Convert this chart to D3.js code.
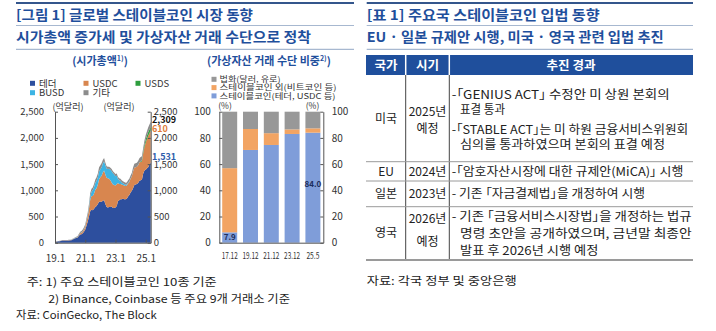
<!DOCTYPE html>
<html><head><meta charset="utf-8">
<script src="https://cdn.jsdelivr.net/npm/d3@7"></script>
<style>
body{margin:0;background:#fff}
text{font-family:"Noto Sans CJK KR","Noto Sans",sans-serif}
.palt{font-feature-settings:"palt"}
</style>
</head><body>
<svg id="c" width="716" height="331"></svg>
<script>
// ---------- DATA ----------
// Market cap (억달러), monthly 2019.1 – 2025.5
const startMonth = new Date(2019, 0, 1), endMonth = new Date(2025, 4, 1);
const tether = [20,20,21,26,30,35,40,40,41,41,41,42,
  46,47,60,70,85,92,100,135,155,160,180,210,
  250,330,400,500,600,630,620,650,680,700,740,780,
  780,780,800,810,740,680,670,680,680,690,660,660,
  670,700,790,810,830,830,840,830,830,840,880,910,
  960,990,1040,1100,1110,1120,1140,1180,1190,1200,1320,1380,
  1390,1420,1440,1490,1531];
const usdc = [4,4,3,3,3,4,5,5,5,5,5,5,
  5,5,6,7,7,9,10,12,25,30,30,40,
  50,80,100,150,220,260,270,290,330,340,370,430,
  470,500,540,570,560,560,560,540,510,460,450,440,
  420,420,350,310,290,280,260,260,250,250,250,250,
  260,280,320,330,330,330,340,350,350,350,380,440,
  520,560,600,600,610];
const busd = [0,0,0,0,0,0,1,1,1,1,2,2,
  2,2,2,2,2,2,2,3,3,5,5,8,
  10,15,20,30,60,80,110,120,130,140,140,150,
  150,160,170,175,180,175,175,190,200,215,215,200,
  180,160,80,70,60,40,35,30,25,20,15,10,
  7,5,3,2,2,1,1,1,1,0,0,0,
  0,0,0,0,0];
const usds = [0,0,0,0,0,0,0,0,0,0,0,0,
  0,0,0,0,0,0,0,0,0,0,0,0,
  0,0,0,0,0,0,0,0,0,0,0,0,
  0,0,0,0,0,0,0,0,0,0,0,0,
  0,0,0,0,0,0,0,0,0,0,0,0,
  0,0,0,0,0,0,0,0,15,20,30,50,
  60,65,70,72,75];
const other = [3,3,3,4,4,5,5,5,5,5,5,5,
  5,5,6,8,10,12,14,20,25,30,35,35,
  40,45,50,60,70,60,55,60,65,70,70,80,
  80,80,70,60,50,45,45,40,40,40,40,40,
  40,40,40,40,40,40,40,40,40,40,45,50,
  55,60,70,75,75,75,80,80,80,80,80,80,
  85,88,90,92,93];
const seriesKeys = ["tether","usdc","busd","usds","other"];
const seriesNames = {tether:"테더", usdc:"USDC", usds:"USDS", busd:"BUSD", other:"기타"};
const areaYTicks = [0,500,1000,1500,2000,2500];
const areaXTicks = [new Date(2019,0,1), new Date(2021,0,1), new Date(2023,0,1), new Date(2025,0,1)];
const areaXTickLabels = ["19.1","21.1","23.1","25.1"];
const endLabels = [{key:"total", text:"2,309", value:2309},{key:"usdc", text:"610", value:2141},{key:"tether", text:"1,531", value:1531}];

// Share of trading means (%)
const barCats = ["17.12","19.12","21.12","23.12","25.5"];
const stableShare = [7.9,70.8,74.6,83.0,84.0];
const nonStableShare = [49.0,16.0,9.0,3.5,3.3];
const fiatShare = [43.1,13.2,16.4,13.5,12.7];
const barYTicks = [0,20,40,60,80,100];

// ---------- SETUP ----------
const svg = d3.select("#c");
const BLUE = "#1f4f9c";
function txt(g, s, x, y, o = {}) {
  const t = g.append("text").attr("x", x).attr("y", y).attr("dy", o.dy ?? "0.36em")
    .attr("font-size", o.size || 12).attr("fill", o.fill || "#222")
    .attr("text-anchor", o.anchor || "start").attr("font-weight", o.weight || "normal").text(s);
  if (o.len) t.attr("textLength", o.len).attr("lengthAdjust", o.adj || "spacingAndGlyphs");
  if (o.cls) t.attr("class", o.cls);
  return t;
}
function hline(x1, x2, y, c, w) {
  svg.append("line").attr("x1", x1).attr("x2", x2).attr("y1", y).attr("y2", y).attr("stroke", c).attr("stroke-width", w);
}

// ---------- HEADERS ----------
hline(16, 354, 3, "#34568c", 2);
hline(16, 354, 25.5, "#a7b8d0", 1.2);
hline(16, 354, 49.3, "#a7b8d0", 1.2);
txt(svg, "[그림 1] 글로벌 스테이블코인 시장 동향", 16, 15, {size:13.5, weight:"bold", fill:BLUE, len:237});
txt(svg, "시가총액 증가세 및 가상자산 거래 수단으로 정착", 16, 37.3, {size:13.5, weight:"bold", fill:BLUE, len:295});

hline(366.7, 693, 3, "#34568c", 2);
hline(366.7, 693, 25.5, "#a7b8d0", 1.2);
hline(366.7, 693, 49.3, "#a7b8d0", 1.2);
txt(svg, "[표 1] 주요국 스테이블코인 입법 동향", 366.7, 15, {size:13.5, weight:"bold", fill:BLUE, len:233});
txt(svg, "EU · 일본 규제안 시행, 미국 · 영국 관련 입법 추진", 366.7, 37.3, {size:13.5, weight:"bold", fill:BLUE, len:297});

// panel sub-titles with superscripts
{
  const t1 = svg.append("text").attr("x", 100).attr("y", 61).attr("dy","0.36em").attr("text-anchor","middle")
    .attr("font-size", 11).attr("fill", BLUE).attr("font-weight","bold");
  t1.append("tspan").text("(시가총액");
  t1.append("tspan").attr("font-size", 7).attr("dy", -4).text("1)");
  t1.append("tspan").attr("dy", 4).text(")");
  const t2 = svg.append("text").attr("x", 269).attr("y", 61).attr("dy","0.36em").attr("text-anchor","middle")
    .attr("font-size", 11).attr("fill", BLUE).attr("font-weight","bold");
  t2.append("tspan").text("(가상자산 거래 수단 비중");
  t2.append("tspan").attr("font-size", 7).attr("dy", -4).text("2)");
  t2.append("tspan").attr("dy", 4).text(")");
}

// ---------- AREA CHART ----------
const colors = {tether:"#2d4f9e", usdc:"#d8864f", busd:"#3cb4e4", usds:"#2e9e3e", other:"#8c8c8c"};
const months = d3.timeMonth.range(startMonth, d3.timeMonth.offset(endMonth, 1));
const rows = months.map((d, i) => ({date:d, tether:tether[i], usdc:usdc[i], busd:busd[i], usds:usds[i], other:other[i]}));
const xA = d3.scaleTime().domain([startMonth, endMonth]).range([55, 150.7]);
const yA = d3.scaleLinear().domain([0, 2500]).range([242.7, 111.7]);
const stacked = d3.stack().keys(seriesKeys)(rows);
const areaGen = d3.area().x(d => xA(d.data.date)).y0(d => yA(d[0])).y1(d => yA(d[1]));
const gA = svg.append("g");
gA.selectAll("path.layer").data(stacked).join("path").attr("class","layer")
  .attr("d", areaGen).attr("fill", d => colors[d.key]);

function styleAxis(g, size) {
  g.selectAll(".domain").attr("stroke", "#555");
  g.selectAll(".tick line").attr("stroke", "#555");
  g.selectAll(".tick text").attr("fill", "#333").attr("font-size", size || 9.5)
    .attr("font-family", '"Noto Sans CJK KR","Noto Sans",sans-serif');
  g.attr("font-family", null);
}
const fmt = d3.format(",");
const axL = svg.append("g").attr("transform", `translate(${xA.range()[0]},0)`)
  .call(d3.axisLeft(yA).tickValues(areaYTicks).tickFormat(fmt).tickSizeInner(-3).tickSizeOuter(0).tickPadding(11));
styleAxis(axL);
const axR = svg.append("g").attr("transform", `translate(${xA.range()[1]},0)`)
  .call(d3.axisRight(yA).tickValues(areaYTicks).tickFormat(fmt).tickSizeInner(-3).tickSizeOuter(0).tickPadding(3));
styleAxis(axR);
const axB = svg.append("g").attr("transform", `translate(0,${yA(0)})`)
  .call(d3.axisBottom(xA).tickValues(areaXTicks).tickFormat((d, i) => areaXTickLabels[i]).tickSizeInner(-3).tickSizeOuter(0).tickPadding(12));
styleAxis(axB, 10);

txt(svg, "(억달러)", 68, 106.7, {size:9, anchor:"middle", fill:"#333"});
txt(svg, "(억달러)", 119, 106.7, {size:9, anchor:"middle", fill:"#333"});

// legend
const legendA = [
  {key:"tether", x:30, y:83.3}, {key:"usdc", x:83.5, y:83.3}, {key:"usds", x:135.5, y:83.3},
  {key:"busd", x:30, y:92.7}, {key:"other", x:83.5, y:92.7}];
legendA.forEach(l => {
  svg.append("rect").attr("x", l.x).attr("y", l.y - 2.5).attr("width", 5).attr("height", 5).attr("fill", colors[l.key]);
  txt(svg, seriesNames[l.key], l.x + 9, l.y, {size:9.5, fill:"#333"});
});
// end labels
const endColors = {total:"#111", usdc:"#e07b39", tether:"#2f5dab"};
const endY = {total:120, usdc:128.5, tether:156.5};
endLabels.forEach(e => {
  txt(svg, e.text, 152, endY[e.key], {size:9, weight:"bold", fill:endColors[e.key]});
});

// ---------- BAR CHART ----------
const xB = d3.scaleBand().domain(barCats).range([219.3, 323.3]).paddingInner(0.28).paddingOuter(0.14);
const yB = d3.scaleLinear().domain([0, 100]).range([242.7, 111.7]);
const barRows = barCats.map((c, i) => ({cat:c, stable:stableShare[i], nonStable:nonStableShare[i], fiat:fiatShare[i]}));
const barKeys = ["stable","nonStable","fiat"];
const barColors = {stable:"#7f9dd9", nonStable:"#f2a463", fiat:"#989898"};
const barStack = d3.stack().keys(barKeys)(barRows);
const gB = svg.append("g");
gB.selectAll("g").data(barStack).join("g").attr("fill", d => barColors[d.key])
  .selectAll("rect").data(d => d).join("rect")
  .attr("x", d => xB(d.data.cat)).attr("width", xB.bandwidth())
  .attr("y", d => yB(d[1])).attr("height", d => yB(d[0]) - yB(d[1]));

const bL = svg.append("g").attr("transform", `translate(${xB.range()[0]},0)`)
  .call(d3.axisLeft(yB).tickValues(barYTicks).tickSizeInner(-3).tickSizeOuter(0).tickPadding(8.5));
styleAxis(bL, 10);
const bR = svg.append("g").attr("transform", `translate(${xB.range()[1]},0)`)
  .call(d3.axisRight(yB).tickValues(barYTicks).tickSizeInner(-3).tickSizeOuter(0).tickPadding(8.4));
styleAxis(bR, 10);
const bB = svg.append("g").attr("transform", `translate(0,${yB(0)})`)
  .call(d3.axisBottom(xB).tickSize(0).tickPadding(9.5));
styleAxis(bB, 9.5);
bB.selectAll(".tick text").attr("textLength", d => d.length > 4 ? 16 : 13).attr("lengthAdjust", "spacingAndGlyphs");

txt(svg, "(%)", 225, 105.7, {size:8.5, anchor:"middle", fill:"#333"});
txt(svg, "(%)", 312.5, 105.7, {size:8.5, anchor:"middle", fill:"#333"});

// value labels
txt(svg, stableShare[0].toFixed(1), xB(barCats[0]) + xB.bandwidth()/2, yB(stableShare[0]/2), {size:8, weight:"bold", anchor:"middle", fill:"#1b2d5c"});
txt(svg, stableShare[4].toFixed(1), xB(barCats[4]) + xB.bandwidth()/2, 184, {size:8, weight:"bold", anchor:"middle", fill:"#1b2d5c"});

// bar legend
const legendB = [
  {key:"fiat", label:"법화(달러, 유로)", y:79.3, len:61},
  {key:"nonStable", label:"스테이블코인 외(비트코인 등)", y:87.6, len:117},
  {key:"stable", label:"스테이블코인(테더, USDC 등)", y:95.9, len:116}];
legendB.forEach(l => {
  svg.append("rect").attr("x", 211.5).attr("y", l.y - 2.5).attr("width", 5).attr("height", 5).attr("fill", barColors[l.key]);
  txt(svg, l.label, 219.5, l.y, {size:8, fill:"#333", len:l.len});
});

// footnotes
txt(svg, "주: 1) 주요 스테이블코인 10종 기준", 26.7, 281.7, {size:11, fill:"#222", len:190});
txt(svg, "2) Binance, Coinbase 등 주요 9개 거래소 기준", 48.3, 299, {size:11, fill:"#222", len:241.7});
txt(svg, "자료: CoinGecko, The Block", 16, 315, {size:11, fill:"#222", len:140.7});

// ---------- TABLE ----------
const tX0 = 366, tX1 = 693, c1 = 405.7, c2 = 449.3;
svg.append("rect").attr("x", tX0).attr("y", 55).attr("width", tX1 - tX0).attr("height", 20).attr("fill", BLUE);
[c1, c2].forEach(cx => {
  svg.append("line").attr("x1", cx).attr("x2", cx).attr("y1", 55).attr("y2", 75).attr("stroke", "#fff").attr("stroke-width", 1.5);
  svg.append("line").attr("x1", cx).attr("x2", cx).attr("y1", 75).attr("y2", 260).attr("stroke", "#444").attr("stroke-width", 1);
});
txt(svg, "국가", 386, 65, {size:12.5, weight:"bold", fill:"#fff", anchor:"middle"});
txt(svg, "시기", 427.5, 65, {size:12.5, weight:"bold", fill:"#fff", anchor:"middle"});
txt(svg, "추진 경과", 571, 65, {size:12.5, weight:"bold", fill:"#fff", anchor:"middle"});
[161.7, 181, 206.7].forEach(yy => hline(tX0, tX1, yy, "#9a9a9a", 1));
hline(tX0, tX1, 260, "#9a9a9a", 1.8);

const tableCells = [
  ["미국", 386, 118.5], ["2025년", 427.5, 111.5], ["예정", 427.5, 128.5],
  ["EU", 386, 171.5], ["2024년", 427.5, 171.5],
  ["일본", 386, 193.8], ["2023년", 427.5, 193.8],
  ["영국", 386, 233], ["2026년", 427.5, 218.5], ["예정", 427.5, 241.5]];
tableCells.forEach(c => txt(svg, c[0], c[1], c[2], {size:12, anchor:"middle", fill:"#222"}));

const tableLines = [
  ["-「GENIUS ACT」 수정안 미 상원 본회의", 451.7, 95, 218],
  ["표결 통과", 460, 110, 45],
  ["-「STABLE ACT」는 미 하원 금융서비스위원회", 451.7, 130, 236.6],
  ["심의를 통과하였으며 본회의 표결 예정", 460, 144.5, 205],
  ["-「암호자산시장에 대한 규제안(MiCA)」 시행", 451.7, 171.5, 231.6],
  ["- 기존 「자금결제법」을 개정하여 시행", 451.7, 193.8, 193.3],
  ["- 기존 「금융서비스시장법」을 개정하는 법규", 451.7, 216.5, 240],
  ["명령 초안을 공개하였으며, 금년말 최종안", 460, 233.3, 231.7],
  ["발표 후 2026년 시행 예정", 460, 250.7, 138.3]];
tableLines.forEach(l => txt(svg, l[0], l[1], l[2], {size:12, fill:"#222", len:l[3], cls:"palt"}));

txt(svg, "자료: 각국 정부 및 중앙은행", 366.7, 281, {size:11, fill:"#222", len:150});
</script>
</body></html>
